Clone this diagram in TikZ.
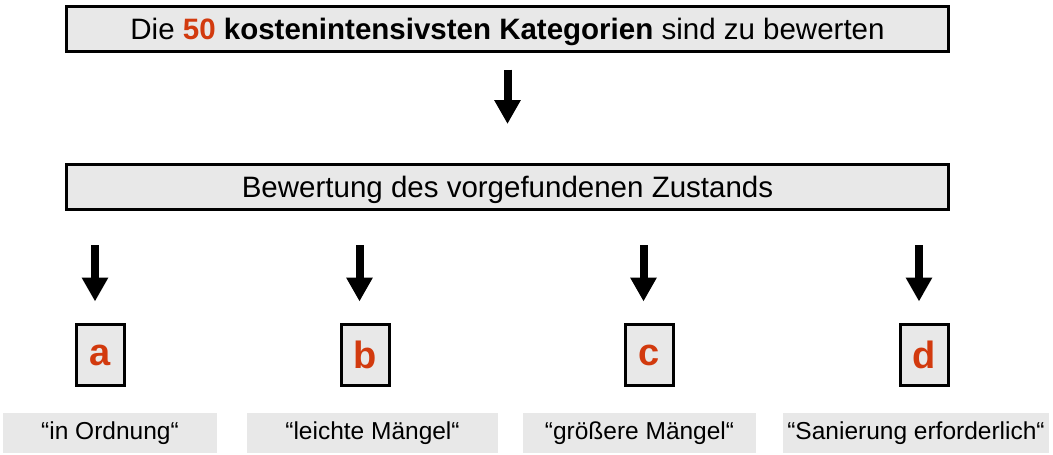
\documentclass[tikz,border=0pt]{standalone}
\usepackage{fontspec}
\setmainfont{Liberation Sans}
\usepackage{xcolor}
\usetikzlibrary{arrows.meta, positioning}
\definecolor{rot}{RGB}{210,58,14}
\definecolor{hellgrau}{RGB}{232,232,232}

\begin{document}
\begin{tikzpicture}[x=1pt, y=-1pt,
    kasten/.style={draw, line width=3pt, fill=hellgrau, minimum width=882pt, minimum height=45pt, inner sep=0pt, text height=21pt, text depth=0pt, font=\fontsize{29.5}{33}\selectfont},
    buchstabe/.style={draw, line width=3pt, fill=hellgrau, minimum width=48pt, minimum height=61pt, inner sep=0pt, text=rot, font=\fontsize{38}{40}\selectfont\bfseries},
    urteil/.style={fill=hellgrau, minimum height=40pt, inner sep=0pt, font=\fontsize{24.5}{28}\selectfont},
    pfeil/.style={line width=8pt, -{Triangle[width=25pt,length=24pt]}}]
                \useasboundingbox (0,0) rectangle (1053,455);

                \node[kasten] (kategorien) at (507.5, 29) {Die \textbf{\textcolor{rot}{50} kostenintensivsten Kategorien} sind zu bewerten};
                \node[kasten] (zustand) at (507.5, 186.5) {Bewertung des vorgefundenen Zustands};

                \node[buchstabe] (a) at (100.5, 355) {a};
                \node[buchstabe] (b) at (365, 355) {b};
                \node[buchstabe] (c) at (649, 355) {c};
                \node[buchstabe] (d) at (924.5, 355) {d};

                \node[urteil, minimum width=214pt] (ua) at (110, 433) {“in Ordnung“};
                \node[urteil, minimum width=251pt] (ub) at (372.5, 433) {“leichte Mängel“};
                \node[urteil, minimum width=233pt] (uc) at (639.5, 433) {“größere Mängel“};
                \node[urteil, minimum width=266pt] (ud) at (916, 433) {“Sanierung erforderlich“};

                \draw[pfeil, shorten <=16.5pt, shorten >=38.5pt] (kategorien) -- (zustand);
                \foreach \k in {a, b, c, d}
                    \draw[pfeil, shorten <=34.5pt, shorten >=21.5pt] ([xshift=-5.5pt]\k.north |- zustand.south) -- ([xshift=-5.5pt]\k.north);
            \end{tikzpicture}
\end{document}
